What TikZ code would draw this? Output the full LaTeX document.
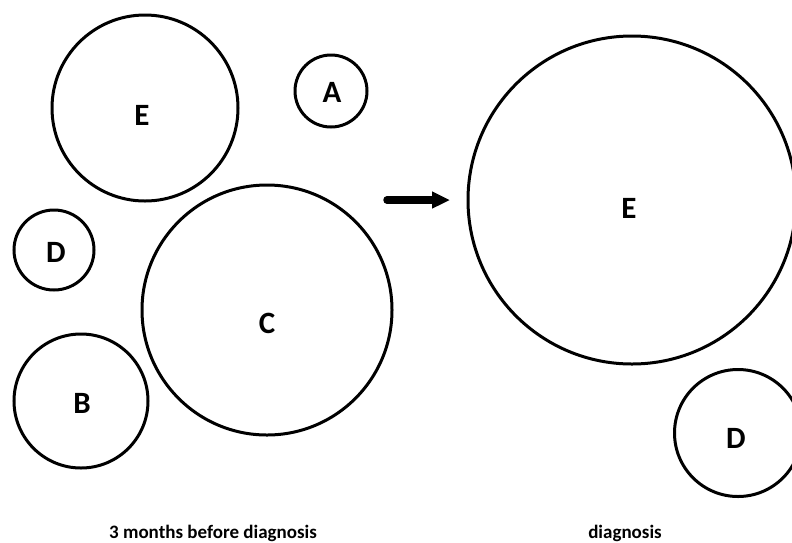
\documentclass[tikz,border=0pt]{standalone}
\usepackage{fontspec}
\setmainfont{Carlito}
\usetikzlibrary{arrows.meta}
\begin{document}
\begin{tikzpicture}[x=1pt,y=-1pt,
  blob/.style={circle,draw=black,line width=3pt,inner sep=0pt},
  tag/.style={font=\bfseries\fontsize{31}{33}\selectfont,inner sep=0pt},
  caption/.style={font=\bfseries\fontsize{19}{22}\selectfont}]
\useasboundingbox (0,0) rectangle (792,542);
\begin{scope}
\clip (0,0) rectangle (792,542);
\node[blob,minimum size=186pt] (E1) at (145,108) {};
\node[blob,minimum size=72pt] (A) at (331,91) {};
\node[blob,minimum size=80pt] (D1) at (54,250) {};
\node[blob,minimum size=250pt] (C) at (267,310) {};
\node[blob,minimum size=134pt] (B) at (81,401) {};
\node[blob,minimum size=328pt] (E2) at (632,200) {};
\node[blob,minimum size=127pt] (D2) at (738,433) {};
\end{scope}
\node[tag] (tE1) at (142,115) {E};
\node[tag] (tA) at (332,92) {A};
\node[tag] (tD1) at (56,252) {D};
\node[tag] (tC) at (267,323) {C};
\node[tag] (tB) at (82,403) {B};
\node[tag] (tE2) at (629,208) {E};
\node[tag] (tD2) at (736,438) {D};
\coordinate (s) at (387,200);
\coordinate (t) at (450,200);
\draw[line width=7.5pt,line cap=round,-{Triangle[length=18pt,width=16pt]}] (s) -- (t);
\node[caption] (c1) at (213,533) {3 months before diagnosis};
\node[caption] (c2) at (625,533) {diagnosis};
\end{tikzpicture}
\end{document}
